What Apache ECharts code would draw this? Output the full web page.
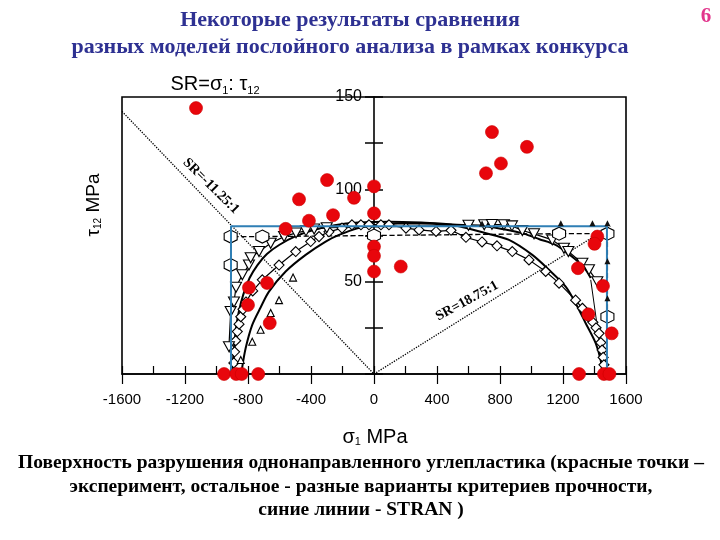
<!DOCTYPE html>
<html><head><meta charset="utf-8">
<script src="https://cdn.jsdelivr.net/npm/echarts@6/dist/echarts.min.js"></script>
<style>html,body{margin:0;padding:0;background:#fff}#c{width:720px;height:540px}</style>
</head><body><div id="c"></div>
<script>
// ---- data (sigma1 MPa, tau12 MPa) ----
const experiment = [
  [-1130,144],[-298,105],[-476,94.6],[-127,95.4],[0,101.6],[-260,86],[-413,83],[0,87],[-561,78.6],
  [0,69],[0,64],[0,55.5],[170,58.2],
  [-794,46.8],[-679,49.3],[-800,37.4],[-662,27.6],
  [-952,0],[-875,0],[-840,0],[-735,0],
  [749,131],[971,123],[806,114],[711,108.7],
  [1418,74.4],[1400,70.5],[1295,57.3],[1454,47.7],[1361,32.3],[1509,22],
  [1302,0],[1460,0],[1495,0]
];
const stranEnvelope = [[-908,0],[-908,80],[1479,80],[1479,0]];
const stranMarks = [[686,81.5],[1186,81.7],[1387,81.7],[1482,81.7],[1482,61],[1482,41]];
const hexCriterion = [[-910,59],[-910,74.4],[-709,74.4],[0,75],[1175,76],[1482,76],[1482,31]];
const downTriCriterion = [
  [-921,14.8],[-910,33.8],[-889,39],[-876,47],[-836,53.7],[-794,59],[-783,62.9],[-730,66.3],
  [-656,70.8],[-571,74.4],[-495,76.4],[-432,77.5],[-380,78.5],[-300,79.2],[600,80.5],[700,80.8],
  [749,81],[825,80.8],[876,80.2],[942,77.7],[1016,75.9],[1132,72.6],[1206,68.1],[1234,66.3],
  [1323,60],[1365,56.4],[1418,50]
];
const downTriTail = [[1376,51],[1460,0]];
const diamondCriterion = [
  [-890,6],[-885,12],[-878,18],[-868,23],[-857,27],[-846,31],[-832,35],[-813,39],[-770,45],
  [-709,51],[-603,59],[-497,66.3],[-402,71.7],[-349,74.4],[-286,77],[-203,79],[-140,80.8],
  [-83,80.8],[-32,80.8],[44,80.8],[95,80.8],[203,79],[286,78],[394,77.2],[489,77.8],[584,74],
  [686,71.5],[781,69.4],[878,66.3],[984,61.8],[1090,55.5],[1175,49.2],[1280,40],[1323,35.6],
  [1360,31],[1390,28],[1410,25],[1429,22],[1440,17],[1448,13],[1455,9],[1460,5]
];
const smallTriCriterion = [[-846,7.6],[-773,17.5],[-720,24],[-656,33],[-603,40],[-514,52.2]];
const outerCurve = [
  [-900,0],[-893,10],[-880,22],[-860,33],[-830,43],[-790,52],[-740,59],[-680,65],[-600,70],
  [-500,74.5],[-400,77.5],[-250,80.5],[-100,82],[100,82.5],[300,82],[500,81],[700,80],[850,78],
  [950,76],[1050,73],[1150,70],[1250,64],[1330,58],[1376,52]
];
const innerCurve = [
  [-840,0],[-836,4],[-815,14],[-773,26.6],[-720,36],[-667,44.6],[-561,55.5],[-434,64.5],
  [-307,71.7],[-222,75.3],[-100,79],[0,80.5],[150,81.5],[300,81.5],[450,81],[540,80],[700,76.5],
  [857,72.6],[1005,64.5],[1111,56.4],[1217,47.3],[1280,38.3],[1344,27.5],[1408,16.6],[1439,7.6],[1450,0]
];
const srNegLine = [[-1600,142.2],[0,0]];
const srPosLine = [[0,0],[1500,80]];
const xMin = -1600, xMax = 1600, xStep = 200, xLabelStep = 400;
const yMin = 0, yMax = 150, yStep = 25, yLabelStep = 50;

const titleLines = ['Некоторые результаты сравнения','разных моделей послойного анализа в рамках конкурса'];
const captionLines = ['Поверхность разрушения однонаправленного углепластика (красные точки –',
  'эксперимент, остальное - разные варианты критериев прочности,','синие линии - STRAN )'];

const HEX = 'path://M5,0 L9.33,2.5 L9.33,7.5 L5,10 L0.67,7.5 L0.67,2.5 Z';
const DTRI = 'path://M0,0 L10,0 L5,9 Z';
const DIAM = 'path://M5,0 L10,5 L5,10 L0,5 Z';

const chart = echarts.init(document.getElementById('c'));
const serif = '"Liberation Serif","Times New Roman",serif';
const sans = '"Liberation Sans",Arial,sans-serif';
const gridLeft = 122, gridRight = 94;
const plotW = 720 - gridLeft - gridRight;
const yAxisShift = -Math.round(plotW * (0 - xMin) / (xMax - xMin)); // put y axis at sigma = 0
function txt(x,y,text,font,fill,rot){
  return {type:'text', x:x, y:y, rotation:rot||0, z:100,
    style:{text:text, font:font, fill:fill, textAlign:'center', textVerticalAlign:'middle', align:'center', verticalAlign:'middle'}};
}
const openStyle = {color:'#fff', borderColor:'#000', borderWidth:1.1, opacity:1};
const option = {
  animation:false,
  grid:{left:gridLeft, right:gridRight, top:97, bottom:166, show:true, borderColor:'#000', borderWidth:1.6},
  xAxis:[
    {type:'value', min:xMin, max:xMax, interval:xStep, position:'bottom',
     axisLine:{show:true, lineStyle:{color:'#000', width:1.5}},
     axisTick:{show:true, inside:true, length:8, lineStyle:{color:'#000', width:1.2}},
     axisLabel:{margin:18, color:'#000', fontSize:15, fontFamily:sans,
       formatter:v => (v % xLabelStep === 0 ? String(v) : '')},
     splitLine:{show:false}},
    {type:'value', min:xMin, max:xMax, interval:xLabelStep, position:'bottom',
     axisLine:{show:false}, axisTick:{show:true, inside:false, length:10, lineStyle:{color:'#000', width:1.2}},
     axisLabel:{show:false}, splitLine:{show:false}}
  ],
  yAxis:[
    {type:'value', min:yMin, max:yMax, interval:yStep, position:'left', offset:yAxisShift,
     axisLine:{show:true, onZero:false, lineStyle:{color:'#000', width:1.6}},
     axisTick:{show:true, inside:false, length:9, lineStyle:{color:'#000', width:1.5}},
     axisLabel:{margin:12, color:'#000', fontSize:16, fontFamily:sans,
       formatter:v => (v > 0 && v % yLabelStep === 0 ? String(v) : '')},
     splitLine:{show:false}},
    {type:'value', min:yMin, max:yMax, interval:yStep, position:'left', offset:yAxisShift,
     axisLine:{show:false, onZero:false}, axisTick:{show:true, inside:true, length:9, lineStyle:{color:'#000', width:1.5}},
     axisLabel:{show:false}, splitLine:{show:false}}
  ],
  series:[
    {type:'line', data:srNegLine, symbol:'none', z:1, lineStyle:{color:'#000', width:1.3, type:'dotted'}},
    {type:'line', data:srPosLine, symbol:'none', z:1, lineStyle:{color:'#000', width:1.3, type:'dotted'}},
    {type:'line', data:outerCurve, symbol:'none', smooth:0.3, z:2, lineStyle:{color:'#000', width:2}},
    {type:'line', data:innerCurve, symbol:'none', smooth:0.3, z:2, lineStyle:{color:'#000', width:2}},
    {type:'line', data:downTriTail, symbol:'none', z:2, lineStyle:{color:'#000', width:1}},
    {type:'line', data:diamondCriterion, symbol:DIAM, symbolSize:10, z:3, showSymbol:true,
     lineStyle:{color:'#000', width:1.2}, itemStyle:openStyle},
    {type:'line', data:downTriCriterion, symbol:DTRI, symbolSize:[11,10], z:3,
     lineStyle:{color:'#000', width:1.2}, itemStyle:openStyle},
    {type:'line', data:hexCriterion, symbol:HEX, symbolSize:13, z:3,
     lineStyle:{color:'#000', width:1.3, type:'dashed'}, itemStyle:openStyle},
    {type:'scatter', data:smallTriCriterion, symbol:'triangle', symbolSize:7, z:3, itemStyle:openStyle},
    {type:'line', data:stranEnvelope, symbol:'none', z:4, lineStyle:{color:'#2f7fb5', width:2}},
    {type:'scatter', data:stranMarks, symbol:'triangle', symbolSize:6, z:4, itemStyle:{color:'#111', opacity:1}},
    {type:'scatter', data:experiment, symbol:'circle', symbolSize:13, z:5,
     itemStyle:{color:'#e8060c', borderColor:'#c00', borderWidth:0.6, opacity:1}}
  ],
  graphic:[
    txt(350,20,titleLines[0],'bold 22px '+serif,'#2e3192'),
    txt(350,47,titleLines[1],'bold 22px '+serif,'#2e3192'),
    txt(706,17,'6','bold 21px '+serif,'#e2358c'),
    txt(361,463,captionLines[0],'bold 19.5px '+serif,'#000'),
    txt(361,487,captionLines[1],'bold 19.5px '+serif,'#000'),
    txt(361,510,captionLines[2],'bold 19.5px '+serif,'#000'),
    {type:'text', x:215, y:84, z:100, style:{text:'{a|SR=σ}{s|1}{a|: τ}{s|12}', textAlign:'center', textVerticalAlign:'middle', align:'center', verticalAlign:'middle',
      rich:{a:{font:'20px '+sans, fill:'#000', lineHeight:24}, s:{font:'11px '+sans, fill:'#000', lineHeight:24, verticalAlign:'bottom', padding:[10,0,0,0]}}}},
    {type:'text', x:94, y:205, rotation:Math.PI/2, z:100, style:{text:'{s|τ}{b|12}{s| MPa}', textAlign:'center', textVerticalAlign:'middle', align:'center', verticalAlign:'middle',
      rich:{s:{font:'19px '+sans, fill:'#000', lineHeight:22}, b:{font:'10px '+sans, fill:'#000', lineHeight:22, padding:[9,0,0,0]}}}},
    {type:'text', x:375, y:437, z:100, style:{text:'{s|σ}{b|1}{s| MPa}', textAlign:'center', textVerticalAlign:'middle', align:'center', verticalAlign:'middle',
      rich:{s:{font:'20px '+sans, fill:'#000', lineHeight:22}, b:{font:'11px '+sans, fill:'#000', lineHeight:22, padding:[9,0,0,0]}}}},
    txt(211,186,'SR=-11.25:1','bold 14px '+serif,'#000',-0.78),
    txt(467,301,'SR=18.75:1','bold 14px '+serif,'#000',0.5)
  ]
};
chart.setOption(option);
</script>
</body></html>
